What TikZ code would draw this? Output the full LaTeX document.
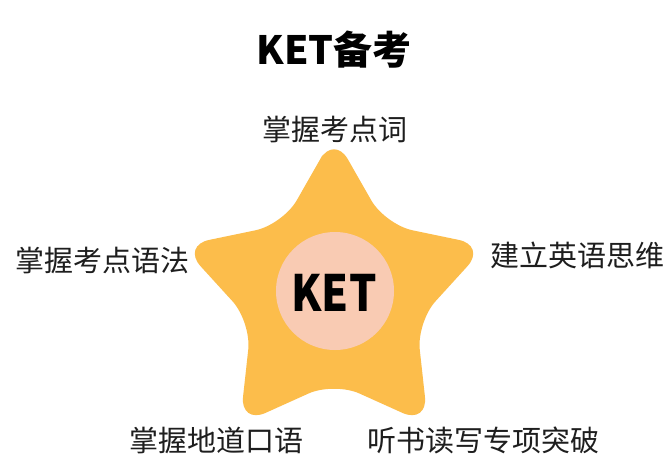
\documentclass[tikz,border=0pt]{standalone}
\usepackage{fontspec}
\newfontfamily\cjk{Noto Sans CJK SC}
\definecolor{starc}{HTML}{FCBD4B}
\definecolor{circc}{HTML}{F9CBB3}
\definecolor{labc}{HTML}{1E1E1E}
\begin{document}
\begin{tikzpicture}[x=1pt,y=-1pt,
  lab/.style={font=\cjk\fontsize{29}{32}\selectfont, text=labc, inner sep=0pt},
  bigtitle/.style={font=\cjk\bfseries\fontsize{39}{42}\selectfont, text=black, inner sep=0pt},
  kettext/.style={font=\cjk\bfseries\fontsize{50}{52}\selectfont, text=black, inner sep=0pt, xscale=0.86}]
\useasboundingbox (0,0) rectangle (666,467);
\fill[white] (0,0) rectangle (666,467);
% star
\fill[starc, rounded corners=28pt]
  (308.45,179.8) -- (334,135) -- (385.1,224.6) -- (486.2,245.6) -- (416.7,321.9)
  -- (428.0,424.4) -- (334,382) -- (240.0,424.4) -- (251.3,321.9) -- (181.8,245.6)
  -- (282.9,224.6) -- cycle;
\node[circle, fill=circc, minimum size=118pt, inner sep=0pt] (c) at (335,291) {};
\node[kettext] (ket) at (334,293) {KET};
\node[bigtitle] (title) at (334,50) {KET备考};
\node[lab] (top) at (335,129) {掌握考点词};
\node[lab] (left) at (102,260) {掌握考点语法};
\node[lab] (right) at (577,255) {建立英语思维};
\node[lab] (bl) at (216,440) {掌握地道口语};
\node[lab] (br) at (483,440) {听书读写专项突破};
\end{tikzpicture}
\end{document}
